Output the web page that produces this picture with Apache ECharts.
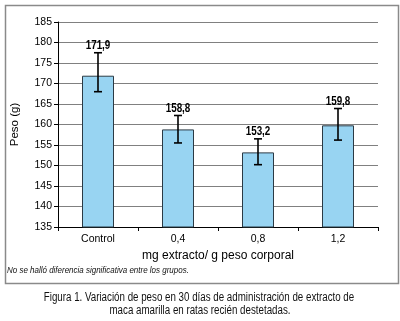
<!DOCTYPE html>
<html>
<head>
<meta charset="utf-8">
<script src="https://cdn.jsdelivr.net/npm/echarts@6/dist/echarts.min.js"></script>
<style>
  html, body { margin: 0; padding: 0; background: #fff; }
  #chart { width: 400px; height: 321px; }
</style>
</head>
<body>
<div id="chart"></div>
<script>
// grupos y pesos medios (g)
var categories = ['Control', '0,4', '0,8', '1,2'];
var meanWeight = [171.9, 158.8, 153.2, 159.8];
var labelText = ['171,9', '158,8', '153,2', '159,8'];
// extremos de las barras de error
var errLow = [168.0, 155.5, 150.2, 156.2];
var errHigh = [177.5, 162.2, 156.5, 163.9];
var yTicks = { min: 135, max: 185, step: 5 };

var chart = echarts.init(document.getElementById('chart'));

var errData = categories.map(function (c, i) {
    return [i, errLow[i], errHigh[i]];
});

// no hay fuente "narrow" instalada: se estrecha con scaleX
var narrowText = function (txt, x, y, size) {
    return {
        type: 'text', x: x, y: y, scaleX: 0.78, silent: true,
        style: {
            text: txt,
            textAlign: 'center',
            textVerticalAlign: 'middle',
            fontFamily: 'Liberation Sans, Arial, sans-serif',
            fontSize: size,
            fill: '#111'
        }
    };
};

var option = {
    animation: false,
    backgroundColor: '#fff',
    textStyle: { fontFamily: 'Liberation Sans, Arial, sans-serif' },
    graphic: [
        {
            type: 'rect',
            left: 3, top: 3,
            shape: { width: 393, height: 278 },
            style: { fill: 'none', stroke: '#8a8a8a', lineWidth: 1.5 },
            silent: true
        },
        {
            type: 'text',
            x: 7, y: 270,
            scaleX: 0.84,
            style: {
                text: 'No se halló diferencia significativa entre los grupos.',
                textVerticalAlign: 'middle',
                fontFamily: 'Liberation Sans, Arial, sans-serif',
                fontStyle: 'italic',
                fontSize: 9.5,
                fill: '#111'
            },
            silent: true
        },
        narrowText('Figura 1. Variación de peso en 30 días de administración de extracto de', 199, 298, 12.5),
        narrowText('maca amarilla en ratas recién destetadas.', 200, 311, 12.5)
    ],
    grid: {
        left: 58,
        right: 22,
        top: 22,
        bottom: 94
    },
    xAxis: {
        type: 'category',
        data: categories,
        boundaryGap: true,
        name: 'mg extracto/ g peso corporal',
        nameLocation: 'middle',
        nameGap: 22,
        nameTextStyle: { fontSize: 12, color: '#000' },
        axisLine: { lineStyle: { color: '#000', width: 1 } },
        axisTick: { show: true, alignWithLabel: false, length: 4, lineStyle: { color: '#000' } },
        axisLabel: { color: '#000', fontSize: 10.5, margin: 7 }
    },
    yAxis: {
        type: 'value',
        min: yTicks.min,
        max: yTicks.max,
        interval: yTicks.step,
        name: 'Peso (g)',
        nameLocation: 'middle',
        nameGap: 37,
        nameTextStyle: { fontSize: 11.5, color: '#000' },
        axisLine: { show: true, lineStyle: { color: '#000', width: 1 } },
        axisTick: { show: true, length: 4, lineStyle: { color: '#000' } },
        axisLabel: { color: '#000', fontSize: 10.5, margin: 6 },
        splitLine: { show: true, lineStyle: { color: '#808080', width: 1 } }
    },
    series: [
        {
            type: 'bar',
            data: meanWeight,
            barWidth: '40%',
            itemStyle: {
                color: '#98d4f2',
                borderColor: '#2b3a45',
                borderWidth: 1
            }
        },
        {
            type: 'custom',
            data: errData,
            z: 5,
            renderItem: function (params, api) {
                var x = api.value(0);
                var lo = api.coord([x, api.value(1)]);
                var hi = api.coord([x, api.value(2)]);
                var cap = 4;
                var st = { stroke: '#000', lineWidth: 1.6 };
                return {
                    type: 'group',
                    children: [
                        { type: 'line', shape: { x1: lo[0], y1: lo[1], x2: hi[0], y2: hi[1] }, style: st },
                        { type: 'line', shape: { x1: lo[0] - cap, y1: lo[1], x2: lo[0] + cap, y2: lo[1] }, style: st },
                        { type: 'line', shape: { x1: hi[0] - cap, y1: hi[1], x2: hi[0] + cap, y2: hi[1] }, style: st },
                        {
                            type: 'text',
                            x: hi[0], y: hi[1] - 1,
                            scaleX: 0.82,
                            style: {
                                text: labelText[params.dataIndex],
                                textAlign: 'center',
                                textVerticalAlign: 'bottom',
                                fontFamily: 'Liberation Sans, Arial, sans-serif',
                                fontWeight: 'bold',
                                fontSize: 12,
                                fill: '#000'
                            }
                        }
                    ]
                };
            }
        }
    ]
};

chart.setOption(option);
</script>
</body>
</html>
